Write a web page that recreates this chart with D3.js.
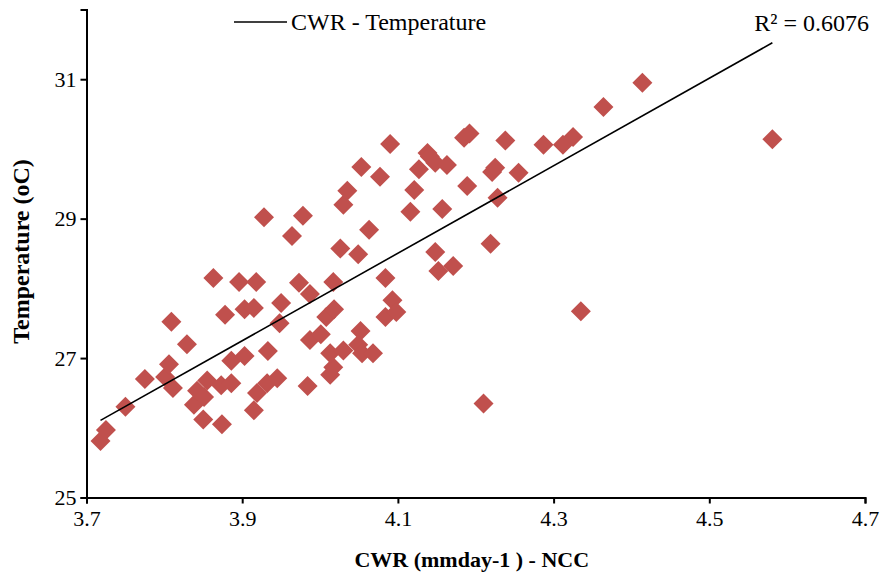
<!DOCTYPE html>
<html>
<head>
<meta charset="utf-8">
<script src="https://cdn.jsdelivr.net/npm/d3@7"></script>
<style>
  html, body { margin: 0; padding: 0; background: #fff; }
  svg text { font-family: "Liberation Serif", "Times New Roman", serif; fill: #000; }
</style>
</head>
<body>
<div id="chart"></div>
<script>
// CWR (mm/day) values
const cwr = [
  3.718, 3.725, 3.750, 3.775, 3.801, 3.806, 3.811, 3.809, 3.829, 3.838,
  3.842, 3.850, 3.851, 3.855, 3.863, 3.873, 3.874, 3.878, 3.886, 3.886,
  3.896, 3.903, 3.903, 3.915, 3.918, 3.915, 3.919, 3.928, 3.932, 3.933,
  3.945, 3.948, 3.950, 3.964, 3.973, 3.978, 3.984, 3.987, 3.987, 4.001,
  4.008, 4.013, 4.017, 4.013, 4.017, 4.018, 4.026, 4.030, 4.030, 4.035,
  4.049, 4.053, 4.052, 4.049, 4.054, 4.063, 4.068, 4.077, 4.084, 4.084,
  4.090, 4.093, 4.098, 4.116, 4.121, 4.127, 4.138, 4.141, 4.148, 4.148,
  4.152, 4.157, 4.163, 4.171, 4.185, 4.189, 4.192, 4.210, 4.219, 4.221,
  4.225, 4.228, 4.238, 4.255, 4.287, 4.312, 4.325, 4.335, 4.364, 4.414,
  4.581
];
// temperature (oC), same order
const temp = [
  25.81, 25.97, 26.30, 26.70, 26.73, 26.91, 26.57, 27.52, 27.20, 26.33,
  26.53, 26.12, 26.44, 26.68, 28.15, 26.61, 26.05, 27.62, 26.96, 26.64,
  28.09, 27.03, 27.70, 27.72, 28.09, 26.25, 26.50, 29.02, 26.64, 27.10,
  26.71, 27.50, 27.79, 28.75, 28.08, 29.04, 26.60, 27.92, 27.26, 27.34,
  27.59, 26.76, 26.87, 27.07, 28.09, 27.70, 28.57, 27.11, 29.20, 29.40,
  28.49, 29.74, 27.39, 27.19, 27.07, 28.84, 27.07, 29.60, 28.15, 27.59,
  30.07, 27.83, 27.66, 29.10, 29.41, 29.71, 29.94, 29.89, 29.80, 28.52,
  28.25, 29.14, 29.77, 28.32, 30.16, 29.47, 30.22, 26.35, 28.64, 29.67,
  29.73, 29.30, 30.12, 29.66, 30.06, 30.06, 30.17, 27.67, 30.60, 30.95,
  30.14
];
const xTicks = [3.7, 3.9, 4.1, 4.3, 4.5, 4.7];
const yTicks = [25, 27, 29, 31];
const seriesName = "CWR - Temperature";
const r2Label = "R\u00b2 = 0.6076";

const width = 883, height = 577;
const margin = {top: 9.5, right: 18, bottom: 79.5, left: 86.5};

const svg = d3.select("#chart").append("svg")
  .attr("width", width)
  .attr("height", height);

const x = d3.scaleLinear()
  .domain([3.7, 4.7])
  .range([margin.left, width - margin.right]);

const y = d3.scaleLinear()
  .domain([25, 32])
  .range([height - margin.bottom, margin.top]);

const pts = cwr.map((v, i) => ({x: v, y: temp[i]}));

// least squares fit for the trendline
const mx = d3.mean(cwr), my = d3.mean(temp);
const slope = d3.sum(pts, d => (d.x - mx) * (d.y - my)) / d3.sum(pts, d => (d.x - mx) ** 2);
const icpt = my - slope * mx;
const [x0, x1] = d3.extent(cwr);

// axes
const xAxis = svg.append("g")
  .attr("transform", `translate(0,${y(25)})`)
  .call(d3.axisBottom(x).tickValues(xTicks).tickFormat(d3.format(".1f")).tickSizeOuter(6).tickSize(6).tickPadding(5));

const yAxis = svg.append("g")
  .attr("transform", `translate(${x(3.7)},0)`)
  .call(d3.axisLeft(y).tickValues(yTicks).tickFormat(d3.format("d")).tickSizeOuter(0).tickSize(6).tickPadding(4));

[xAxis, yAxis].forEach(g => {
  g.select(".domain").attr("stroke", "#000").attr("stroke-width", 2);
  g.selectAll(".tick line").attr("stroke", "#000").attr("stroke-width", 2);
  g.selectAll(".tick text")
    .style("font-family", '"Liberation Serif", "Times New Roman", serif')
    .style("font-size", "22px")
    .attr("fill", "#000");
});
xAxis.selectAll(".tick text").attr("dy", "0.8em");

// markers
svg.append("g")
  .selectAll("path")
  .data(pts)
  .enter().append("path")
    .attr("d", d3.symbol().type(d3.symbolSquare).size(200))
    .attr("transform", d => `translate(${x(d.x)},${y(d.y)}) rotate(45)`)
    .attr("fill", "#C0504D");

// trendline
svg.append("line")
  .attr("x1", x(x0)).attr("y1", y(icpt + slope * x0))
  .attr("x2", x(x1)).attr("y2", y(icpt + slope * x1))
  .attr("stroke", "#000")
  .attr("stroke-width", 1.6);

// legend
svg.append("line")
  .attr("x1", 234).attr("x2", 287)
  .attr("y1", 22).attr("y2", 22)
  .attr("stroke", "#000").attr("stroke-width", 1.6);
svg.append("text")
  .attr("x", 291).attr("y", 30)
  .style("font-size", "24px")
  .text(seriesName);

svg.append("text")
  .attr("x", 869).attr("y", 31)
  .attr("text-anchor", "end")
  .style("font-size", "24px")
  .text(r2Label);

// axis titles
svg.append("text")
  .attr("x", (x(3.7) + x(4.7)) / 2 - 4)
  .attr("y", 567)
  .attr("text-anchor", "middle")
  .style("font-size", "22px")
  .style("font-weight", "bold")
  .text("CWR (mmday-1 ) - NCC");

svg.append("text")
  .attr("transform", `translate(29,${(y(25) + y(32)) / 2 - 2}) rotate(-90)`)
  .attr("text-anchor", "middle")
  .style("font-size", "24px")
  .style("font-weight", "bold")
  .text("Temperature (oC)");
</script>
</body>
</html>
